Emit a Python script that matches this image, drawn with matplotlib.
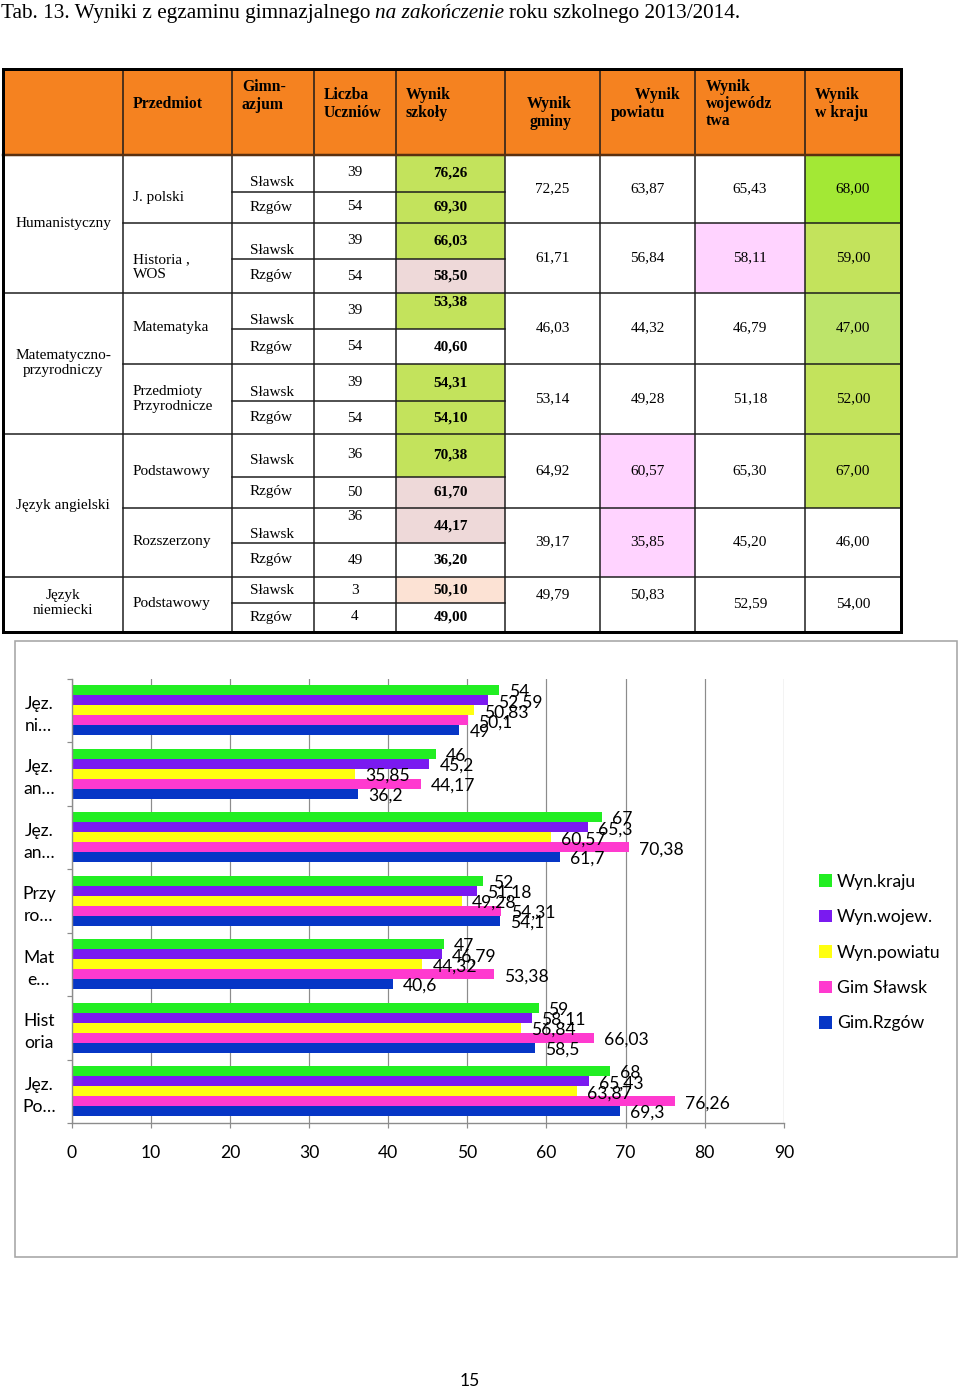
import matplotlib
matplotlib.use("Agg")
import matplotlib.pyplot as plt
from matplotlib.patches import Rectangle
import numpy as np

W, H = 960, 1392

# ---------------- data
chart_labels = ["Jęz.\nPo…", "Hist\noria", "Mat\ne…", "Przy\nro…", "Jęz.\nan…", "Jęz.\nan…", "Jęz.\nni…"]
series_names = ["Wyn.kraju", "Wyn.wojew.", "Wyn.powiatu", "Gim Sławsk", "Gim.Rzgów"]
kraj = [68, 59, 47, 52, 67, 46, 54]
wojew = [65.43, 58.11, 46.79, 51.18, 65.30, 45.20, 52.59]
powiat = [63.87, 56.84, 44.32, 49.28, 60.57, 35.85, 50.83]
gmina = [72.25, 61.71, 46.03, 53.14, 64.92, 39.17, 49.79]
slawsk = [76.26, 66.03, 53.38, 54.31, 70.38, 44.17, 50.10]
rzgow = [69.30, 58.50, 40.60, 54.10, 61.70, 36.20, 49.00]
n_slawsk = [39, 39, 39, 39, 36, 36, 3]
n_rzgow = [54, 54, 54, 54, 50, 49, 4]
x_ticks = [0, 10, 20, 30, 40, 50, 60, 70, 80, 90]

groups = ["Humanistyczny", "Matematyczno-\nprzyrodniczy", "Język angielski", "Język\nniemiecki"]
subjects = ["J. polski", "Historia ,\nWOS", "Matematyka", "Przedmioty\nPrzyrodnicze",
            "Podstawowy", "Rozszerzony", "Podstawowy"]
schools = ["Sławsk", "Rzgów"]
title_parts = [("Tab. 13. Wyniki z egzaminu gimnazjalnego", "normal"),
               ("na zakończenie", "italic"),
               ("roku szkolnego 2013/2014.", "normal")]
page_no = "15"

# ---------------- styles / layout (pixels)
colors = ["#22EE22", "#7A1AF0", "#FFFF10", "#FF3ACF", "#0636C6"]
G1, G2, G3 = "#A3E835", "#C3E35C", "#BDE46A"
PK, PE, PV, WH = "#EED9D9", "#FCE2D4", "#FFD3FF", "white"
sl_fill = [G2, G2, G2, G2, G2, PK, PE]
rz_fill = [G2, PK, WH, G2, PK, WH, WH]
pow_fill = [WH, WH, WH, WH, PV, PV, WH]
woj_fill = [WH, PV, WH, WH, WH, WH, WH]
kraj_fill = [G1, G2, G3, G2, G2, WH, WH]

col_x = [3, 123, 232, 314, 396, 505, 600, 695, 805, 901]
top_y, head_y = 69, 155
row_y = [155, 223, 293, 364, 434, 508, 577, 632]
sub_y = [192, 259, 329, 401, 477, 543, 603]
group_rows = [0, 2, 4, 6, 7]
group_y = [224, 363, 505, 603]
subj_y = [198, 267, 328, 399, 471, 542, 604]
slaw_y = [182, 250, 320, 392, 461, 535, 590]
rzg_y = [207, 276, 347, 418, 492, 560, 617]
n1_y = [172, 241, 311, 382, 455, 517, 590]
v1_y = [173, 241, 302, 383, 455, 526, 590]
mid_y = [189, 258, 328, 399, 471, 542, 595]
mid2_y = [189, 258, 328, 399, 471, 542, 604]

SERIF = "Liberation Serif"
SANS = ["Lato", "DejaVu Sans"]
PX = 0.72  # points per pixel at dpi 100


def fmt_table(v):
    return f"{v:.2f}".replace(".", ",")


def fmt_chart(v):
    s = f"{v:.2f}".rstrip("0").rstrip(".")
    return s.replace(".", ",")


fig = plt.figure(figsize=(W / 100, H / 100), dpi=100)
bg = fig.add_axes([0, 0, 1, 1])
bg.set_xlim(0, W)
bg.set_ylim(H, 0)
bg.axis("off")

# ---------------- title
r = fig.canvas.get_renderer()
tx = 1
for s, st in title_parts:
    t = bg.text(tx, 18, s, fontsize=15.3, family=SERIF, style=st, va="baseline", ha="left")
    tx += t.get_window_extent(renderer=r).width + 5

# ---------------- table
def cell(x0, x1, y0, y1, c):
    if c != WH:
        bg.add_patch(Rectangle((x0, y0), x1 - x0, y1 - y0, facecolor=c, edgecolor="none", zorder=1))


cell(col_x[0], col_x[-1], top_y, head_y, "#F58220")
for i in range(7):
    y0, ym, y1 = row_y[i], sub_y[i], row_y[i + 1]
    cell(col_x[4], col_x[5], y0, ym, sl_fill[i])
    cell(col_x[4], col_x[5], ym, y1, rz_fill[i])
    cell(col_x[6], col_x[7], y0, y1, pow_fill[i])
    cell(col_x[7], col_x[8], y0, y1, woj_fill[i])
    cell(col_x[8], col_x[9], y0, y1, kraj_fill[i])

lc, lw = "#1a1a1a", 1.5 * PX
for x in col_x[1:-1]:
    bg.plot([x, x], [top_y, row_y[-1]], color=lc, lw=lw, zorder=2)
bg.plot([col_x[0], col_x[-1]], [head_y, head_y], color="#5a3010", lw=2.5 * PX, zorder=2)
for k, y in enumerate(row_y[1:-1]):
    i = k + 1
    x_start = col_x[0] if i in group_rows else col_x[1]
    bg.plot([x_start, col_x[-1]], [y, y], color=lc, lw=lw, zorder=2)
for y in sub_y:
    bg.plot([col_x[2], col_x[5]], [y, y], color=lc, lw=lw, zorder=2)
bg.add_patch(Rectangle((col_x[0], top_y), col_x[-1] - col_x[0], row_y[-1] - top_y,
                       fill=False, edgecolor="black", lw=3 * PX, zorder=3))

hdr_kw = dict(fontsize=11.3, family=SERIF, weight="bold", va="center", linespacing=1.12, zorder=4)
bg.text(133, 104, "Przedmiot", ha="left", **hdr_kw)
bg.text(242, 96, "Gimn-\nazjum", ha="left", **hdr_kw)
bg.text(324, 104, "Liczba\nUczniów", ha="left", **hdr_kw)
bg.text(406, 104, "Wynik\nszkoły", ha="left", **hdr_kw)
bg.text(572, 113, "Wynik\ngminy", ha="right", multialignment="right", **hdr_kw)
bg.text(611, 104, "      Wynik\npowiatu", ha="left", **hdr_kw)
bg.text(706, 104, "Wynik\nwojewódz\ntwa", ha="left", **hdr_kw)
bg.text(815, 104, "Wynik\nw kraju", ha="left", **hdr_kw)

body = dict(fontsize=11, family=SERIF, va="center", linespacing=1.12, zorder=4)
for g, gy in zip(groups, group_y):
    bg.text(63, gy, g, ha="center", multialignment="center", **body)
cx = [(col_x[j] + col_x[j + 1]) / 2 for j in range(9)]
for i in range(7):
    bg.text(133, subj_y[i], subjects[i], ha="left", **body)
    bg.text(250, slaw_y[i], schools[0], ha="left", **body)
    bg.text(250, rzg_y[i], schools[1], ha="left", **body)
    bg.text(cx[3], n1_y[i], str(n_slawsk[i]), ha="center", **body)
    bg.text(cx[3], rzg_y[i], str(n_rzgow[i]), ha="center", **body)
    bg.text(cx[4], v1_y[i], fmt_table(slawsk[i]), ha="center", weight="bold", **body)
    bg.text(cx[4], rzg_y[i], fmt_table(rzgow[i]), ha="center", weight="bold", **body)
    bg.text(cx[5], mid_y[i], fmt_table(gmina[i]), ha="center", **body)
    bg.text(cx[6], mid_y[i], fmt_table(powiat[i]), ha="center", **body)
    bg.text(cx[7], mid2_y[i], fmt_table(wojew[i]), ha="center", **body)
    bg.text(cx[8], mid2_y[i], fmt_table(kraj[i]), ha="center", **body)

# ---------------- chart
bg.add_patch(Rectangle((15, 641), 942, 616, fill=False, edgecolor="#a6a6a6", lw=1.6 * PX))

x0, x1, y0, y1 = 71.8, 783.8, 678.5, 1123
ax = fig.add_axes([x0 / W, (H - y1) / H, (x1 - x0) / W, (y1 - y0) / H])
pos = np.arange(len(chart_labels))
h = 0.156
series = [kraj, wojew, powiat, slawsk, rzgow]
for k, (vals, name, c) in enumerate(zip(series, series_names, colors)):
    yy = pos + (2 - k) * h
    ax.barh(yy, vals, height=h, color=c, label=name, zorder=2)
    for v, yv in zip(vals, yy):
        ax.annotate(fmt_chart(v), xy=(v, yv), xytext=(10 * PX, -2 * PX), textcoords="offset points",
                    ha="left", va="center", fontsize=12.6, family=SANS, color="black", zorder=5)

ax.set_xlim(0, 90)
ax.set_ylim(-0.5, len(chart_labels) - 0.5)
ax.set_xticks(x_ticks)
ax.set_xticklabels([str(v) for v in x_ticks], fontsize=12.6, family=SANS)
ax.set_yticks(pos)
ax.set_yticklabels(chart_labels, fontsize=12.6, family=SANS, ha="center", multialignment="center",
                   linespacing=1.45)
ax.set_yticks(np.arange(-0.5, len(chart_labels)), minor=True)
ax.tick_params(axis="y", which="major", length=0, pad=33 * PX)
ax.tick_params(axis="y", which="minor", length=5 * PX, color="#8c8c8c", width=1.2 * PX)
ax.tick_params(axis="x", length=5 * PX, color="#8c8c8c", width=1.2 * PX, pad=17 * PX)
ax.set_axisbelow(True)
ax.xaxis.grid(True, color="#8c8c8c", lw=1.2 * PX)
for sp in ["top", "right"]:
    ax.spines[sp].set_visible(False)
for sp in ["left", "bottom"]:
    ax.spines[sp].set_color("#8c8c8c")
    ax.spines[sp].set_linewidth(1.4 * PX)

fig.legend(loc="upper left", bbox_to_anchor=(803 / W, 1 - 858 / H), frameon=False,
           prop={"family": SANS, "size": 12.6}, handlelength=0.75, handleheight=0.75,
           handletextpad=0.3, labelspacing=1.11)

bg.text(470, 1381, page_no, ha="center", va="center", fontsize=12.6, family=SANS)

fig.savefig("out.png", dpi=100)
